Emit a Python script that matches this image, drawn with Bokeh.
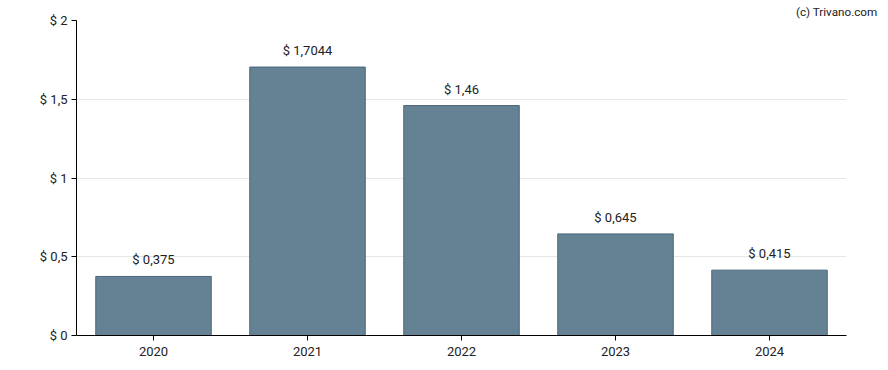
from bokeh.plotting import figure
from bokeh.models import ColumnDataSource, LabelSet, Title, FixedTicker, FactorRange, Range1d
from bokeh.core.properties import value
from bokeh.embed import file_html
from bokeh.resources import INLINE

years = ["2020", "2021", "2022", "2023", "2024"]
values = [0.375, 1.7044, 1.46, 0.645, 0.415]
value_labels = ["$ 0,375", "$ 1,7044", "$ 1,46", "$ 0,645", "$ 0,415"]
y_ticks = [0, 0.5, 1, 1.5, 2]
y_tick_labels = ["$ 0", "$ 0,5", "$ 1", "$ 1,5", "$ 2"]

FONT = "Roboto"

src = ColumnDataSource(dict(x=years, top=values, lab=value_labels))

p = figure(x_range=FactorRange(*years, range_padding=0), y_range=Range1d(0, 2),
           width=880, height=362, output_backend="svg", toolbar_location=None,
           min_border_left=76, min_border_right=34, min_border_top=20, min_border_bottom=27)

p.vbar(x="x", top="top", width=0.75, source=src, fill_color="#658294",
       line_color="#4b667a", line_width=1)

labels = LabelSet(x="x", y="top", text="lab", source=src, text_align="center",
                  text_baseline="bottom", y_offset=9, text_font=value(FONT),
                  text_font_size="13px", text_color="#222222")
p.add_layout(labels)

p.outline_line_color = None
p.xgrid.grid_line_color = None
p.ygrid.grid_line_color = "#e6e6e6"
p.ygrid.ticker = FixedTicker(ticks=y_ticks)

p.yaxis.ticker = FixedTicker(ticks=y_ticks)
p.yaxis.major_label_overrides = {t: l for t, l in zip(y_ticks, y_tick_labels)}
p.yaxis.minor_tick_line_color = None
p.yaxis.major_tick_in = 0
p.yaxis.major_tick_out = 5
for ax in (p.xaxis, p.yaxis):
    ax.major_label_text_font = FONT
    ax.major_label_text_font_size = "13px"
    ax.major_label_text_color = "#222222"
    ax.axis_line_color = "#000000"
    ax.major_tick_line_color = "#000000"
p.xaxis.major_tick_in = 0
p.xaxis.major_tick_out = 5
p.xaxis.major_label_standoff = 6
p.yaxis.major_label_standoff = 4

credit = Title(text="(c) Trivano.com", align="right", vertical_align="top",
               text_font=FONT, text_font_size="11.7px", text_font_style="normal",
               text_color="#222222", standoff=0, offset=-31)
p.add_layout(credit, "above")

open("out.html", "w").write(file_html(p, INLINE))
